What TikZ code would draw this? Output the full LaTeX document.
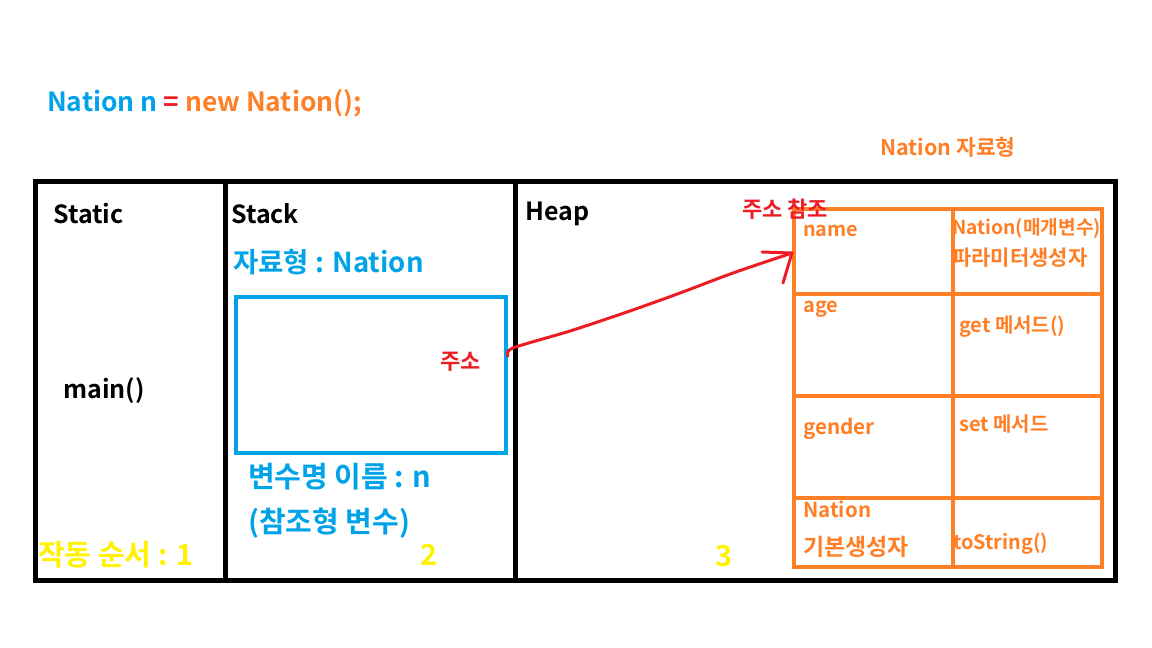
\documentclass[tikz,border=0pt]{standalone}
\usepackage{fontspec}
\setmainfont{Noto Sans CJK KR}[BoldFont={* Bold}]
\definecolor{pblue}{HTML}{00A2E8}
\definecolor{porange}{HTML}{FF7F27}
\definecolor{pred}{HTML}{ED1C24}
\definecolor{pyellow}{HTML}{FFF200}
\tikzset{
  txt/.style={anchor=west,inner sep=0pt,font=\bfseries\fontsize{#1}{#1}\selectfont},
  txt/.default=22,
  blk/.style={line width=5pt,draw=black},
  cell/.style={draw=porange,line width=4pt,anchor=north west,inner sep=0pt},
  redpen/.style={draw=pred,line width=3pt,line cap=round,line join=round}
}
\begin{document}
\begin{tikzpicture}[x=1pt,y=-1pt]
\useasboundingbox (0,0) rectangle (1152,648);
% title line
\node[txt=26.4,text=pblue] (decl) at (47,103) {Nation n \textcolor{pred}{=} \textcolor{porange}{new Nation();}};
\node[txt=21.5,text=porange] (ntype) at (880,147) {Nation 자료형};
% memory areas
\node[blk,anchor=north west,minimum width=1080pt,minimum height=399pt,inner sep=0pt] (mem) at (33,179) {};
\draw[blk] (225,179) -- (225,578);
\draw[blk] (515,179) -- (515,578);
\node[txt=25] (static) at (53,214) {Static};
\node[txt=25] (stack) at (231,214) {Stack};
\node[txt=25] (heap) at (525,214) {Heap};
\node[txt=25] (main) at (63,391) {main()};
% stack variable
\node[txt=27.5,text=pblue] (dtype) at (233,262) {자료형 : Nation};
\node[draw=pblue,line width=4pt,anchor=north west,minimum width=270pt,minimum height=156pt,inner sep=0pt] (ref) at (234,295) {};
\node[txt=22,text=pred] (addr) at (440,362) {주소};
\node[txt=29,text=pblue] (vname) at (248,477) {변수명 이름 : n};
\node[txt=29,text=pblue] (reftype) at (248,523) {(참조형 변수)};
% order
\node[txt=29,text=pyellow] (o1) at (38,555) {작동 순서 : 1};
\node[txt=29,text=pyellow] (o2) at (420,555) {2};
\node[txt=29,text=pyellow] (o3) at (715,556) {3};
% heap object table
\foreach \r/\y/\h in {1/207/85,2/292/102,3/394/102,4/496/69}{
  \node[cell,minimum width=159pt,minimum height=\h pt] (L\r) at (792,\y) {};
  \node[cell,minimum width=149pt,minimum height=\h pt] (R\r) at (951,\y) {};
}
\node[txt=22,text=pred] (addrref) at (742,209) {주소 참조};
\node[txt=19.8,text=porange] (name) at (803,231) {name};
\node[txt=19.2,text=porange] (ctor) at (952,228) {Nation(매개변수)};
\node[txt=21,text=porange] (pctor) at (952,258) {파라미터생성자};
\node[txt=20,text=porange] (age) at (803,309) {age};
\node[txt=20,text=porange] (get) at (959,327) {get 메서드()};
\node[txt=20.7,text=porange] (gender) at (803,429) {gender};
\node[txt=20,text=porange] (set) at (959,424) {set 메서드};
\node[txt=20.5,text=porange] (nat) at (803,509) {Nation};
\node[txt=23,text=porange] (dctor) at (803,547) {기본생성자};
\node[txt=19.9,text=porange] (tostr) at (953,544) {toString()};
% reference arrow (freehand)
\coordinate (a) at (ref.east |- 0,356);
\coordinate (b) at (L1.west |- 0,253);
\draw[redpen] plot[smooth] coordinates {(a) (513,348) (570,331) (627,312) (680,293) (733,273) (b)};
\draw[redpen] (762,252) -- (b) -- (783,283);
\end{tikzpicture}
\end{document}
